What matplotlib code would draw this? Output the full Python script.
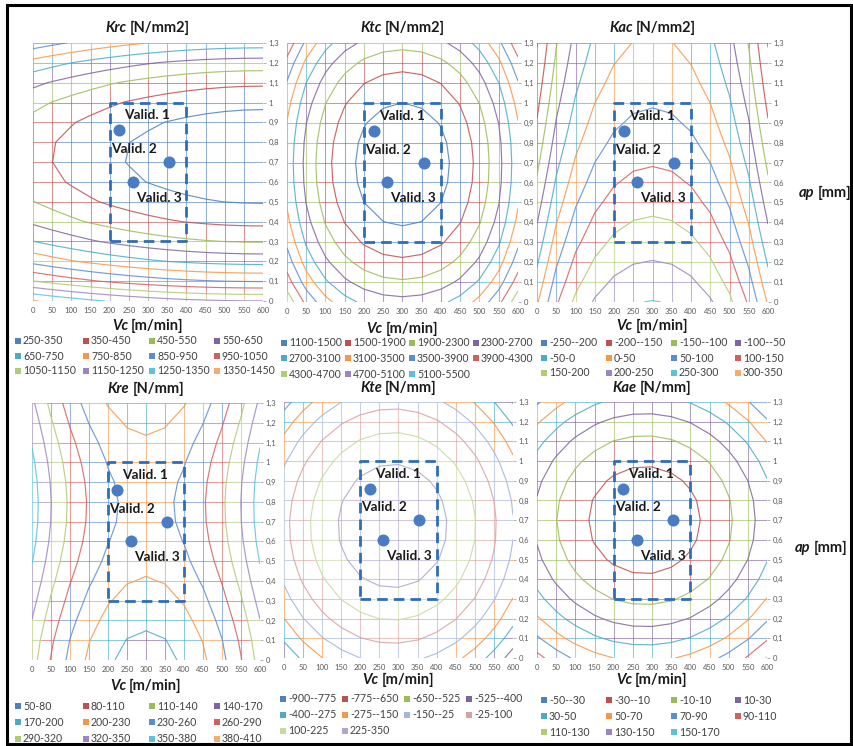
import numpy as np
import matplotlib
matplotlib.use("Agg")
import matplotlib.pyplot as plt
from matplotlib.collections import LineCollection
from matplotlib.patches import Rectangle

W, H = 854, 746
plt.rcParams['font.family'] = ['Lato', 'DejaVu Sans']

# mesh of the response surfaces
vc_nodes = np.arange(0, 601, 50)
ap_nodes = np.round(np.arange(0, 1.31, 0.1), 2)

# response-surface coefficients: [c0, u, d, u^2, d^2, u*d, u^4, d^4]
# with u = (Vc - Vc0)/100 and d = ap - ap0
krc_center = [600, 0.73]
krc_coef = [174, 0, 0, 5.8, 1257, 0, 0, 1083]
ktc_center = [300, 0.69]
ktc_coef = [810, 0, 0, 175, 2920, 0, 7, 1000]
kac_center = [300, 0.0]
kac_coef = [252, 0, -261, -17.9, 55, 0, -1.2, 0]
kre_center = [300, 0.78]
kre_coef = [220.5, 0, 0, 16, -175, 0, 0, 120]
kte_center = [285, 0.67]
kte_coef = [323, 0, 0, -47.2, -977, 0, 0, 0]
kae_center = [281, 0.70]
kae_coef = [-44, 0, 0, 6.45, 183, 0, 0, 0]

# band lower bounds and widths
krc_bands = list(range(250, 1351, 100)); krc_step = 100
ktc_bands = list(range(1100, 5101, 400)); ktc_step = 400
kac_bands = list(range(-250, 301, 50)); kac_step = 50
kre_bands = list(range(50, 381, 30)); kre_step = 30
kte_bands = list(range(-900, 226, 125)); kte_step = 125
kae_bands = list(range(-50, 151, 20)); kae_step = 20

# validation points
valid_vc = [225, 355, 260]
valid_ap = [0.86, 0.70, 0.60]
valid_names = ["Valid. 1", "Valid. 2", "Valid. 3"]

# machining window
window_vc = [200, 400]
window_ap = [0.3, 1.0]

base6 = ['#4F81BD', '#C0504D', '#9BBB59', '#8064A2', '#4BACC6', '#F79646']
mid6 = ['#5B8CD3', '#D2605C', '#AFCB74', '#9B86C2', '#5CC1DA', '#F9AB6B']
pale4 = ['#A3B5DB', '#D9A2A1', '#C6D9A4', '#B3A6C9']


def palette(n, light=False):
    second = pale4 if light else mid6
    full = base6 + second
    return full[:n]


def surface(center, coef):
    V, A = np.meshgrid(vc_nodes, ap_nodes)
    u = (V - center[0]) / 100.0
    d = A - center[1]
    c = coef
    return (c[0] + c[1] * u + c[2] * d + c[3] * u ** 2 + c[4] * d ** 2
            + c[5] * u * d + c[6] * u ** 4 + c[7] * d ** 4)


def band_index(z, lo, step, n):
    return int(np.clip(np.floor((z - lo) / step), 0, n - 1))


def mesh_segments(Z, lo, step, colors):
    n = len(colors)
    sub = 20
    t = np.linspace(0, 1, sub + 1)
    segs, cols = [], []
    for i, v in enumerate(vc_nodes):
        for j in range(len(ap_nodes) - 1):
            z = Z[j, i] + t * (Z[j + 1, i] - Z[j, i])
            a = ap_nodes[j] + t * (ap_nodes[j + 1] - ap_nodes[j])
            for k in range(sub):
                segs.append([(v, a[k]), (v, a[k + 1])])
                cols.append(colors[band_index(0.5 * (z[k] + z[k + 1]), lo, step, n)])
    for j, a0 in enumerate(ap_nodes):
        for i in range(len(vc_nodes) - 1):
            z = Z[j, i] + t * (Z[j, i + 1] - Z[j, i])
            v = vc_nodes[i] + t * (vc_nodes[i + 1] - vc_nodes[i])
            for k in range(sub):
                segs.append([(v[k], a0), (v[k + 1], a0)])
                cols.append(colors[band_index(0.5 * (z[k] + z[k + 1]), lo, step, n)])
    return segs, cols


fig = plt.figure(figsize=(W / 100, H / 100), dpi=100)
renderer = fig.canvas.get_renderer()


def fx(x):
    return x / W


def fy(y):
    return 1 - y / H


def rich_text(xc, yc, parts, size, ha='center'):
    arts = []
    widths = []
    for s, style in parts:
        t = fig.text(0, fy(yc), s, fontsize=size, fontstyle=style,
                     fontweight='bold', va='center', ha='left', color='#1a1a1a')
        arts.append(t)
        widths.append(t.get_window_extent(renderer).width)
    gap = 0.28 * size
    total = sum(widths) + gap * (len(parts) - 1)
    x = xc - total / 2 if ha == 'center' else xc
    for t, w in zip(arts, widths):
        t.set_x(fx(x))
        x += w + gap


panels = [
    dict(rect=(33, 43, 263, 301), center=krc_center, coef=krc_coef, bands=krc_bands,
         step=krc_step, light=False, name='Krc', unit='[N/mm2]', title_y=28,
         vc_y=326, leg_x=[15, 83, 149, 214], leg_y=[341, 356, 371]),
    dict(rect=(287, 43, 518, 302), center=ktc_center, coef=ktc_coef, bands=ktc_bands,
         step=ktc_step, light=False, name='Ktc', unit='[N/mm2]', title_y=28,
         vc_y=329, leg_x=[281, 345, 409, 473], leg_y=[343, 358, 374]),
    dict(rect=(537, 43, 768, 302), center=kac_center, coef=kac_coef, bands=kac_bands,
         step=kac_step, light=False, name='Kac', unit='[N/mm2]', title_y=28,
         vc_y=326, leg_x=[541, 606, 671, 735], leg_y=[343, 358, 373]),
    dict(rect=(32, 403, 260, 660), center=kre_center, coef=kre_coef, bands=kre_bands,
         step=kre_step, light=False, name='Kre', unit='[N/mm]', title_y=389,
         vc_y=686, leg_x=[15, 83, 149, 214], leg_y=[706, 722, 739]),
    dict(rect=(284, 402, 513, 658), center=kte_center, coef=kte_coef, bands=kte_bands,
         step=kte_step, light=True, name='Kte', unit='[N/mm]', title_y=388,
         vc_y=680, leg_x=[280, 342, 404, 466], leg_y=[699, 715, 731]),
    dict(rect=(537, 402, 767, 658), center=kae_center, coef=kae_coef, bands=kae_bands,
         step=kae_step, light=False, name='Kae', unit='[N/mm]', title_y=388,
         vc_y=680, leg_x=[541, 606, 671, 735], leg_y=[700, 716, 732]),
]

ap_labels = [('0' if v == 0 else ('%g' % v).replace('.', ',')) for v in ap_nodes]

for p in panels:
    x0, y0, x1, y1 = p['rect']
    ax = fig.add_axes([fx(x0), fy(y1), (x1 - x0) / W, (y1 - y0) / H])
    Z = surface(p['center'], p['coef'])
    colors = palette(len(p['bands']), p['light'])
    lo, step = p['bands'][0], p['step']

    segs, cols = mesh_segments(Z, lo, step, colors)
    ax.add_collection(LineCollection(segs, colors=cols, linewidths=0.75,
                                     alpha=0.75, zorder=1, capstyle='butt'))
    ax.contour(vc_nodes, ap_nodes, Z, levels=p['bands'], colors=colors,
               linewidths=0.85, alpha=0.85, zorder=2)

    ax.plot([window_vc[0], window_vc[1], window_vc[1], window_vc[0], window_vc[0]],
            [window_ap[0], window_ap[0], window_ap[1], window_ap[1], window_ap[0]],
            color='#2E6DB8', lw=2.0, ls=(0, (3.8, 2.2)), zorder=3)
    ax.scatter(valid_vc, valid_ap, s=75, color='#4A7CC4', zorder=4, linewidths=0)
    ax.text(238, 0.935, valid_names[0], fontsize=9.8, fontweight='bold',
            color='#1a1a1a', va='center', ha='left', zorder=5)
    ax.text(203, 0.765, valid_names[1], fontsize=9.8, fontweight='bold',
            color='#1a1a1a', va='center', ha='left', zorder=5)
    ax.text(268, 0.52, valid_names[2], fontsize=9.8, fontweight='bold',
            color='#1a1a1a', va='center', ha='left', zorder=5)

    ax.set_xlim(0, 600)
    ax.set_ylim(0, 1.3)
    ax.set_xticks(vc_nodes)
    ax.set_xticklabels([str(v) for v in vc_nodes])
    ax.set_yticks(ap_nodes)
    ax.set_yticklabels(ap_labels)
    ax.yaxis.tick_right()
    ax.tick_params(axis='x', length=0, pad=4, labelsize=5.5, labelcolor='#595959')
    ax.tick_params(axis='y', length=2, width=0.6, pad=2, labelsize=5.5,
                   labelcolor='#595959', color='#a6a6a6')
    for s in ax.spines.values():
        s.set_visible(False)

    xc = 0.5 * (x0 + x1)
    rich_text(xc, p['title_y'], [(p['name'], 'italic'), (p['unit'], 'normal')], 10.5)
    rich_text(xc, p['vc_y'], [('Vc', 'italic'), ('[m/min]', 'normal')], 10.5)

    # legend: bands laid out row by row in four columns
    for k, b in enumerate(p['bands']):
        r, c = divmod(k, 4)
        lx = p['leg_x'][c]
        ly = p['leg_y'][r]
        fig.add_artist(Rectangle((fx(lx), fy(ly + 3)), 6 / W, 6 / H,
                                 transform=fig.transFigure, color=colors[k], lw=0))
        fig.text(fx(lx + 8), fy(ly), '%d-%d' % (b, b + p['step']), fontsize=7.6,
                 color='#404040', va='center', ha='left')

rich_text(825, 193, [('ap', 'italic'), ('[mm]', 'normal')], 10.5)
rich_text(821, 548, [('ap', 'italic'), ('[mm]', 'normal')], 10.5)

fig.add_artist(Rectangle((fx(7), fy(744)), (851 - 7) / W, (744 - 5) / H,
                         transform=fig.transFigure, fill=False, ec='black', lw=2.2))

fig.savefig('out.png', dpi=100)
